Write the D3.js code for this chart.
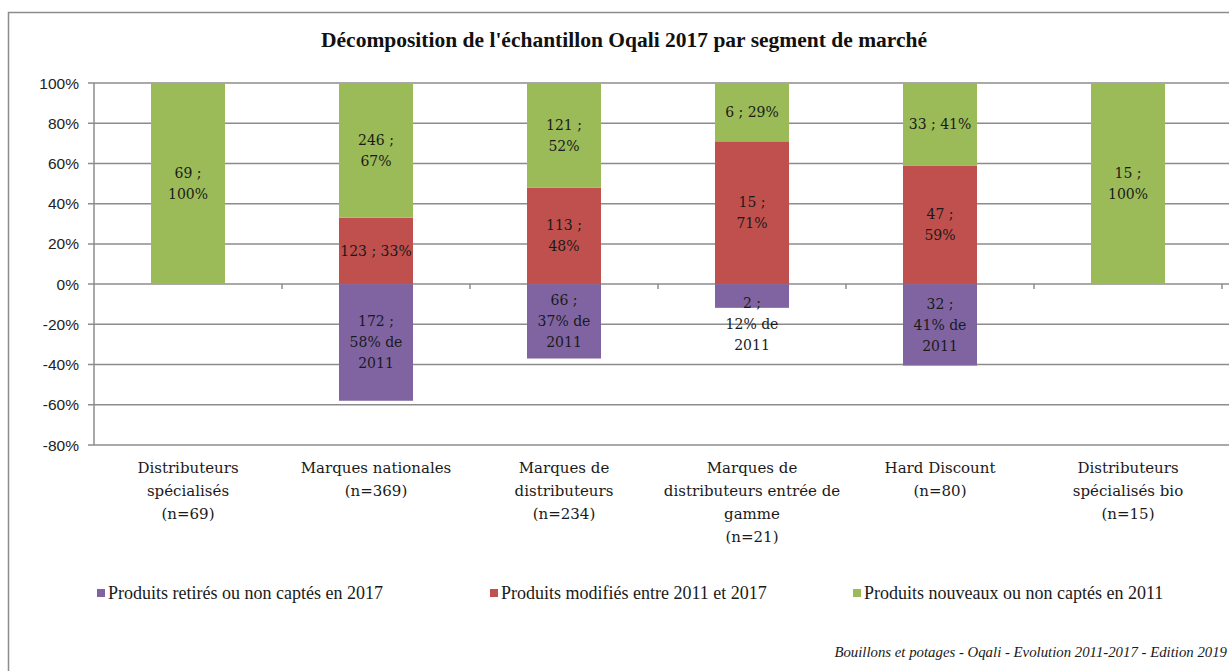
<!DOCTYPE html>
<html>
<head>
<meta charset="utf-8">
<script src="https://cdn.jsdelivr.net/npm/d3@7"></script>
<style>
  body { margin: 0; background: #fff; }
  svg { display: block; }
</style>
</head>
<body>
<div id="chart"></div>
<script>
// categories (each line of the axis label)
const categories = [
  ["Distributeurs", "spécialisés", "(n=69)"],
  ["Marques nationales", "(n=369)"],
  ["Marques de", "distributeurs", "(n=234)"],
  ["Marques de", "distributeurs entrée de", "gamme", "(n=21)"],
  ["Hard Discount", "(n=80)"],
  ["Distributeurs", "spécialisés bio", "(n=15)"]
];
const seriesNames = [
  "Produits retirés ou non captés en 2017",
  "Produits modifiés entre 2011 et 2017",
  "Produits nouveaux ou non captés en 2011"
];
const seriesColors = ["#8064A2", "#C0504D", "#9BBB59"];

// percentages (retirés shown as negative)
const retires = [0, -58, -37, -11.8, -40.5, 0];
const modifies = [0, 33, 48, 71, 59, 0];
const nouveaux = [100, 67, 52, 29, 41, 100];

// data labels, lines split as in the picture
const retiresLabels = [null, ["172 ;", "58% de", "2011"], ["66 ;", "37% de", "2011"], ["2 ;", "12% de", "2011"], ["32 ;", "41% de", "2011"], null];
const modifiesLabels = [null, ["123 ; 33%"], ["113 ;", "48%"], ["15 ;", "71%"], ["47 ;", "59%"], null];
const nouveauxLabels = [["69 ;", "100%"], ["246 ;", "67%"], ["121 ;", "52%"], ["6 ; 29%"], ["33 ; 41%"], ["15 ;", "100%"]];

const yTicks = [-80, -60, -40, -20, 0, 20, 40, 60, 80, 100];

const W = 1229, H = 671;
const margin = { top: 83, right: 7, bottom: 226, left: 94 };

const svg = d3.select("#chart").append("svg")
  .attr("width", W).attr("height", H);

// outer frame
svg.append("rect")
  .attr("x", 8.5).attr("y", 12.5)
  .attr("width", W + 10).attr("height", H + 10)
  .attr("fill", "none").attr("stroke", "#8c8c8c").attr("stroke-width", 1.5);

svg.append("text")
  .attr("x", 624).attr("y", 47)
  .attr("text-anchor", "middle")
  .attr("font-family", "'Liberation Serif', 'DejaVu Serif', serif")
  .attr("font-weight", "bold")
  .attr("font-size", 21.5)
  .attr("fill", "#111")
  .text("Décomposition de l'échantillon Oqali 2017 par segment de marché");

const band = d3.scaleBand()
  .domain(d3.range(categories.length))
  .range([margin.left, W - margin.right]);
const y = d3.scaleLinear().domain([-80, 100]).range([H - margin.bottom, margin.top]);

// gridlines
svg.append("g")
  .selectAll("line")
  .data(yTicks)
  .join("line")
  .attr("x1", margin.left - 6).attr("x2", W)
  .attr("y1", d => y(d)).attr("y2", d => y(d))
  .attr("stroke", "#8c8c8c").attr("stroke-width", 1.5);

// y axis line
svg.append("line")
  .attr("x1", margin.left).attr("x2", margin.left)
  .attr("y1", y(100)).attr("y2", y(-80))
  .attr("stroke", "#8c8c8c").attr("stroke-width", 1.5);

// y tick labels
svg.append("g")
  .selectAll("text")
  .data(yTicks)
  .join("text")
  .attr("x", margin.left - 15).attr("y", d => y(d) + 5.5)
  .attr("text-anchor", "end")
  .attr("font-family", "'Liberation Sans', Arial, sans-serif")
  .attr("font-size", 15.5)
  .attr("fill", "#222")
  .text(d => d + "%");

// category tick marks on the zero line
svg.append("g")
  .selectAll("line")
  .data(d3.range(1, categories.length + 1))
  .join("line")
  .attr("x1", d => band(0) + d * band.bandwidth())
  .attr("x2", d => band(0) + d * band.bandwidth())
  .attr("y1", y(0)).attr("y2", y(0) + 5)
  .attr("stroke", "#8c8c8c").attr("stroke-width", 1.5);

// bars
const bw = 74;
function drawSeries(values, y0fn, color) {
  svg.append("g")
    .selectAll("rect")
    .data(values.map((v, i) => ({ i, v, base: y0fn(i) })))
    .join("rect")
    .attr("x", d => band(d.i) + band.bandwidth() / 2 - bw / 2)
    .attr("width", bw)
    .attr("y", d => Math.min(y(d.base), y(d.base + d.v)))
    .attr("height", d => Math.abs(y(d.base) - y(d.base + d.v)))
    .attr("fill", color);
}
drawSeries(retires, () => 0, seriesColors[0]);
drawSeries(modifies, () => 0, seriesColors[1]);
drawSeries(nouveaux, i => modifies[i], seriesColors[2]);

// data labels
function drawLabels(labels, mid) {
  const g = svg.append("g");
  labels.forEach((lines, i) => {
    if (!lines) return;
    const cx = band(i) + band.bandwidth() / 2;
    const cy = y(mid(i));
    const lh = 21;
    const top = cy - (lines.length - 1) * lh / 2;
    const t = g.append("text")
      .attr("text-anchor", "middle")
      .attr("font-family", "'DejaVu Serif', 'Liberation Serif', serif")
      .attr("font-size", 14)
      .attr("fill", "#1a1a1a");
    lines.forEach((l, k) => {
      t.append("tspan").attr("x", cx).attr("y", top + k * lh + 5).text(l);
    });
  });
}
drawLabels(retiresLabels, i => i === 3 ? retires[i] - 8 : retires[i] / 2);
drawLabels(modifiesLabels, i => modifies[i] / 2);
drawLabels(nouveauxLabels, i => modifies[i] + nouveaux[i] / 2);

// category labels
svg.append("g")
  .selectAll("text")
  .data(categories)
  .join("text")
  .attr("text-anchor", "middle")
  .attr("font-family", "'DejaVu Serif', 'Liberation Serif', serif")
  .attr("font-size", 15)
  .attr("fill", "#1a1a1a")
  .each(function (lines, i) {
    const cx = band(i) + band.bandwidth() / 2;
    lines.forEach((l, k) => {
      d3.select(this).append("tspan")
        .attr("x", cx).attr("y", y(-80) + 28 + k * 23).text(l);
    });
  });

// legend
const legX = [97, 490, 853];
const leg = svg.append("g");
seriesNames.forEach((name, i) => {
  leg.append("rect")
    .attr("x", legX[i]).attr("y", 589)
    .attr("width", 8).attr("height", 8)
    .attr("fill", seriesColors[i]);
  leg.append("text")
    .attr("x", legX[i] + 11).attr("y", 599)
    .attr("font-family", "'Liberation Serif', 'DejaVu Serif', serif")
    .attr("font-size", 18)
    .attr("fill", "#1a1a1a")
    .text(name);
});

// source
svg.append("text")
  .attr("x", 1227).attr("y", 657)
  .attr("text-anchor", "end")
  .attr("font-family", "'Liberation Serif', 'DejaVu Serif', serif")
  .attr("font-style", "italic")
  .attr("font-size", 14.8)
  .attr("fill", "#1a1a1a")
  .text("Bouillons et potages - Oqali - Evolution 2011-2017 - Edition 2019");
</script>
</body>
</html>
